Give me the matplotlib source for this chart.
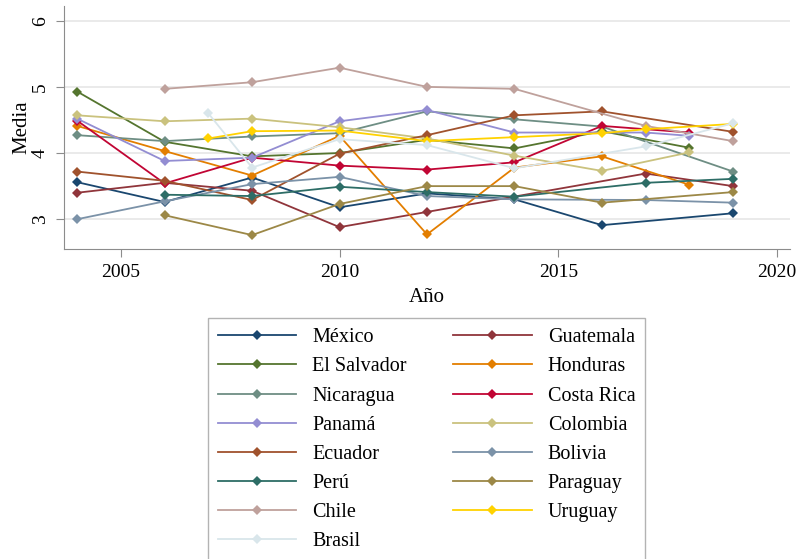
import matplotlib
matplotlib.use("Agg")
import matplotlib.pyplot as plt

plt.rcParams.update({
    "font.family": ["Liberation Serif", "DejaVu Serif"],
    "font.size": 13,
})

# Survey years (points missing for some countries -> None)
years = [2004, 2006, 2007, 2008, 2010, 2012, 2014, 2016, 2017, 2018, 2019]

mexico      = [3.56, 3.26, None, 3.63, 3.18, 3.39, 3.30, 2.91, None, None, 3.09]
guatemala   = [3.40, 3.55, None, 3.43, 2.88, 3.11, None, None, 3.69, None, 3.50]
el_salvador = [4.93, 4.17, None, 3.95, 4.00, 4.20, 4.07, 4.33, None, 4.08, None]
honduras    = [4.41, 4.03, None, 3.66, 4.26, 2.77, 3.78, 3.95, None, 3.52, None]
nicaragua   = [4.27, 4.18, None, 4.25, 4.30, 4.63, 4.51, 4.40, None, None, 3.72]
costa_rica  = [4.49, 3.54, None, 3.93, 3.81, 3.75, 3.86, 4.41, None, 4.31, None]
panama      = [4.52, 3.88, None, 3.93, 4.48, 4.65, 4.31, None, 4.31, 4.26, None]
colombia    = [4.57, 4.48, None, 4.52, 4.39, 4.22, 3.96, 3.73, None, 4.01, None]
ecuador     = [3.72, 3.58, None, 3.29, 3.99, 4.27, 4.57, 4.63, None, None, 4.32]
bolivia     = [3.00, 3.27, None, 3.53, 3.64, 3.35, 3.30, None, 3.29, None, 3.25]
peru        = [None, 3.37, None, 3.35, 3.49, 3.41, 3.34, None, 3.55, None, 3.61]
paraguay    = [None, 3.06, None, 2.76, 3.23, 3.50, 3.50, 3.25, None, None, 3.41]
chile       = [None, 4.97, None, 5.07, 5.29, 5.00, 4.97, None, 4.41, None, 4.18]
uruguay     = [None, None, 4.22, 4.33, 4.34, 4.18, 4.24, 4.30, 4.36, None, 4.44]
brasil      = [None, None, 4.60, 3.78, 4.21, 4.12, 3.77, None, 4.10, None, 4.45]

countries = ["México", "Guatemala", "El Salvador", "Honduras", "Nicaragua",
             "Costa Rica", "Panamá", "Colombia", "Ecuador", "Bolivia",
             "Perú", "Paraguay", "Chile", "Uruguay", "Brasil"]
series = [mexico, guatemala, el_salvador, honduras, nicaragua, costa_rica,
          panama, colombia, ecuador, bolivia, peru, paraguay, chile,
          uruguay, brasil]

# Stata s2color palette
colors = ["#1a476f", "#90353b", "#55752f", "#e37e00", "#6e8e84",
          "#c10534", "#938dd2", "#cac27e", "#a0522d", "#7b92a8",
          "#2d6d66", "#9c8847", "#bfa19c", "#ffd200", "#d9e6eb"]

fig = plt.figure(figsize=(8.04, 5.59), dpi=100)
ax = fig.add_axes([0.0796, 0.5546, 0.903, 0.4344])

for name, vals, col in zip(countries, series, colors):
    xs = [y for y, v in zip(years, vals) if v is not None]
    ys = [v for v in vals if v is not None]
    ax.plot(xs, ys, color=col, linewidth=1.3, marker="D", markersize=5.5,
            markeredgewidth=0, label=name)

ax.set_xlim(2003.7, 2020.3)
ax.set_ylim(2.55, 6.22)
ax.set_xticks([2005, 2010, 2015, 2020])
ax.set_yticks([3, 4, 5, 6])
ax.tick_params(axis="y", labelrotation=90, length=6, color="#8c8c8c",
               pad=5, labelsize=14)
ax.tick_params(axis="x", length=6, color="#8c8c8c", pad=5, labelsize=14)
for lab in ax.get_yticklabels():
    lab.set_va("center")
ax.grid(axis="y", color="#e6e6e6", linewidth=1.2)
ax.set_axisbelow(True)
for side in ["top", "right"]:
    ax.spines[side].set_visible(False)
for side in ["left", "bottom"]:
    ax.spines[side].set_color("#8c8c8c")
ax.set_xlabel("Año", fontsize=15, labelpad=5)
ax.set_ylabel("Media", fontsize=15, labelpad=0)

handles, labels = ax.get_legend_handles_labels()
# reorder so that two columns read row-wise
order = list(range(0, 15, 2)) + list(range(1, 15, 2))
leg = fig.legend([handles[i] for i in order], [labels[i] for i in order],
                 loc="upper center", bbox_to_anchor=(0.5305, 1 - 308 / 559),
                 ncol=2, fontsize=14.5, frameon=True, fancybox=False,
                 edgecolor="#a0a0a0", handlelength=3.9, handletextpad=0.8,
                 columnspacing=2.3, labelspacing=0.5, borderpad=0.5)
leg.get_frame().set_linewidth(1.0)

fig.savefig("out.png", dpi=100)
